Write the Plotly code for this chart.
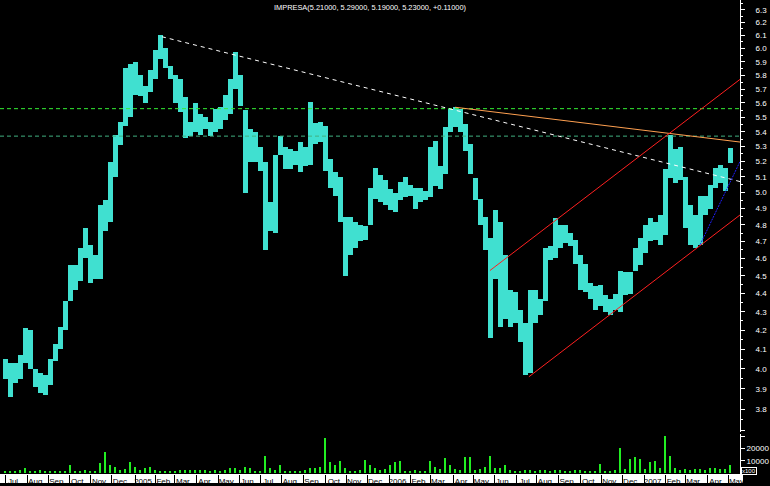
import pandas as pd
import plotly.graph_objects as go

TITLE = "IMPRESA(5.21000, 5.29000, 5.19000, 5.23000, +0.11000)"

# ~weekly samples (first sample 2004-07-01, last early May 2007)
bar_dates = pd.date_range("2004-07-01", "2007-05-04 05:00", periods=146)

lows = [3.95, 3.86, 3.93, 3.95, 4.03, 4.00, 3.91, 3.88, 3.87, 3.92,
        4.04, 4.10, 4.20, 4.36, 4.42, 4.47, 4.60, 4.46, 4.48, 4.48,
        4.76, 4.82, 5.10, 5.31, 5.44, 5.50, 5.66, 5.65, 5.60, 5.68,
        5.77, 5.92, 5.85, 5.77, 5.60, 5.54, 5.36, 5.37, 5.40, 5.38,
        5.42, 5.37, 5.40, 5.42, 5.48, 5.52, 5.70, 5.58, 5.00, 5.20,
        5.20, 5.14, 4.65, 4.76, 4.75, 5.24, 5.15, 5.15, 5.18, 5.13,
        5.17, 5.18, 5.32, 5.33, 5.14, 5.03, 4.98, 4.82, 4.50, 4.62,
        4.66, 4.70, 4.71, 4.80, 4.96, 4.94, 4.92, 4.89, 4.88, 4.95,
        4.97, 4.98, 4.90, 4.94, 4.95, 4.97, 5.04, 5.02, 5.12, 5.40,
        5.43, 5.40, 5.27, 5.12, 4.95, 4.80, 4.65, 4.16, 4.48, 4.22,
        4.26, 4.22, 4.24, 4.14, 3.97, 3.98, 4.24, 4.28, 4.36, 4.59,
        4.60, 4.66, 4.69, 4.67, 4.57, 4.42, 4.41, 4.37, 4.31, 4.33,
        4.30, 4.28, 4.31, 4.30, 4.39, 4.40, 4.53, 4.56, 4.63, 4.70,
        4.71, 4.68, 4.74, 5.09, 5.06, 5.08, 4.78, 4.68, 4.66, 4.68,
        4.86, 4.90, 5.03, 5.06, 5.01, 5.19]

highs = [4.05, 4.03, 4.03, 4.07, 4.21, 4.20, 4.00, 3.98, 3.97, 4.05,
         4.13, 4.22, 4.36, 4.56, 4.56, 4.66, 4.78, 4.68, 4.62, 4.92,
         4.95, 5.20, 5.38, 5.47, 5.85, 5.88, 5.90, 5.80, 5.72, 5.84,
         5.99, 6.10, 6.00, 5.87, 5.80, 5.77, 5.64, 5.47, 5.60, 5.52,
         5.50, 5.47, 5.56, 5.57, 5.66, 5.77, 5.97, 5.80, 5.55, 5.42,
         5.40, 5.30, 5.20, 4.94, 5.24, 5.37, 5.30, 5.28, 5.27, 5.33,
         5.30, 5.61, 5.46, 5.47, 5.44, 5.22, 5.13, 5.10, 4.85, 4.85,
         4.82, 4.80, 4.79, 5.03, 5.16, 5.11, 5.08, 5.02, 5.00, 5.07,
         5.10, 5.05, 5.03, 5.03, 5.01, 5.30, 5.34, 5.17, 5.43, 5.56,
         5.57, 5.56, 5.45, 5.32, 5.09, 4.96, 4.85, 4.72, 4.89, 4.82,
         4.62, 4.42, 4.41, 4.31, 4.24, 4.42, 4.42, 4.37, 4.66, 4.67,
         4.84, 4.80, 4.80, 4.75, 4.71, 4.62, 4.57, 4.46, 4.44, 4.45,
         4.39, 4.37, 4.40, 4.53, 4.52, 4.52, 4.66, 4.72, 4.80, 4.84,
         4.82, 4.86, 5.15, 5.38, 5.28, 5.30, 5.10, 4.92, 4.86, 4.98,
         4.98, 5.05, 5.16, 5.18, 5.16, 5.29]

# volume (x100)
volume = [1000, 1200, 1000, 2000, 4000, 1200, 800, 2000, 1800, 1500,
          1500, 1600, 1500, 6000, 1500, 1200, 2000, 1500, 1800, 8000,
          17000, 6000, 5000, 2500, 3000, 8500, 5000, 2500, 4000, 5000,
          2000, 1500, 1200, 1500, 1500, 2000, 2500, 2500, 2500, 2000,
          2500, 1500, 2000, 1200, 2500, 4000, 4000, 2000, 5000, 4000,
          1500, 1200, 14000, 4000, 2000, 6000, 1500, 1000, 1200, 1200,
          2500, 4000, 3500, 4500, 28000, 8800, 6000, 10000, 4000, 1500,
          1200, 2000, 10500, 6500, 4000, 2500, 3000, 6000, 9000, 9300,
          1500, 1200, 2000, 1200, 1500, 10000, 5000, 3000, 12000, 6000,
          3000, 2500, 12500, 12500, 2000, 3000, 5000, 13500, 4000, 4000,
          6000, 2000, 1500, 1500, 2500, 2500, 1500, 2000, 2500, 1500,
          2000, 2000, 1200, 1500, 2000, 2000, 1200, 1200, 1000, 7000,
          1500, 1200, 2500, 20500, 3000, 11000, 12500, 11000, 3000, 9000,
          9500, 4000, 30000, 13500, 4000, 2500, 3000, 2500, 3000, 3000,
          2000, 4000, 3500, 3000, 3000, 6000]

# x axis month labels (first trading day of each month)
month_dates = ["2004-07-01", "2004-08-02", "2004-09-01", "2004-10-01", "2004-11-01",
               "2004-12-01", "2005-01-03", "2005-02-01", "2005-03-01", "2005-04-01",
               "2005-05-02", "2005-06-01", "2005-07-01", "2005-08-01", "2005-09-01",
               "2005-10-03", "2005-11-01", "2005-12-01", "2006-01-02", "2006-02-01",
               "2006-03-01", "2006-04-03", "2006-05-02", "2006-06-01", "2006-07-03",
               "2006-08-01", "2006-09-01", "2006-10-02", "2006-11-01", "2006-12-01",
               "2007-01-02", "2007-02-01", "2007-03-01", "2007-04-02", "2007-05-02"]
month_labels = ["Jul", "Aug", "Sep", "Oct", "Nov", "Dec", "2005", "Feb", "Mar", "Apr",
                "May", "Jun", "Jul", "Aug", "Sep", "Oct", "Nov", "Dec", "2006", "Feb",
                "Mar", "Apr", "May", "Jun", "Jul", "Aug", "Sep", "Oct", "Nov", "Dec",
                "2007", "Feb", "Mar", "Apr", "May"]

price_ticks = [3.7, 3.8, 3.9, 4.0, 4.1, 4.2, 4.3, 4.4, 4.5, 4.6, 4.7, 4.8, 4.9,
               5.0, 5.1, 5.2, 5.3, 5.4, 5.5, 5.6, 5.7, 5.8, 5.9, 6.0, 6.1, 6.2, 6.3]
price_labels = ["", "3.8", "3.9", "4.0", "4.1", "4.2", "4.3", "4.4", "4.5", "4.6", "4.7",
                "4.8", "4.9", "5.0", "5.1", "5.2", "5.3", "5.4", "5.5", "5.6", "5.7",
                "5.8", "5.9", "6.0", "6.1", "6.2", "6.3"]
price_minor = [3.75, 3.85, 3.95, 4.05, 4.15, 4.25, 4.35, 4.45, 4.55, 4.65, 4.75, 4.85,
               4.95, 5.05, 5.15, 5.25, 5.35, 5.45, 5.55, 5.65, 5.75, 5.85, 5.95, 6.05,
               6.15, 6.25, 6.35]
vol_ticks = [10000, 20000, 30000]
vol_labels = ["10000", "20000", ""]

x_start, x_end = "2004-06-23 20:00", "2007-05-18 12:00"

# drawn trend lines (start/end points)
white_x, white_y = ["2005-02-10 12:00", x_end], [6.09, 5.07]
orange_x, orange_y = ["2006-04-06", x_end], [5.57, 5.33]
red_up_x, red_up_y = ["2006-05-25 18:00", x_end], [4.53, 5.77]
red_lo_x, red_lo_y = ["2006-07-20 12:00", x_end], [3.96, 4.86]
blue_x, blue_y = ["2007-03-22 08:00", x_end], [4.68, 5.20]
level_hi, level_lo = 5.56, 5.37

CYAN = "#40E0D0"
GREEN = "#22EE22"

step_ms = (bar_dates[1] - bar_dates[0]).total_seconds() * 1000

fig = go.Figure()
fig.add_trace(go.Bar(x=bar_dates, base=lows, y=[h - l for h, l in zip(highs, lows)],
                     width=step_ms, marker=dict(color=CYAN, line=dict(width=0)),
                     yaxis="y", hoverinfo="skip"))
fig.add_trace(go.Bar(x=bar_dates, y=volume, width=step_ms * 0.32,
                     marker=dict(color=GREEN, line=dict(width=0)),
                     yaxis="y2", hoverinfo="skip"))

def line(xs, ys, color, dash="solid"):
    fig.add_trace(go.Scatter(x=xs, y=ys, mode="lines", yaxis="y",
                             line=dict(color=color, width=1, dash=dash),
                             hoverinfo="skip"))

line([x_start, x_end], [level_hi, level_hi], "#33EE33", "4px,3px")
line([x_start, x_end], [level_lo, level_lo], "#40B080", "4px,3px")
line(white_x, white_y, "#FFFFFF", "4px,4px")
line(orange_x, orange_y, "#FFA050")
line(red_up_x, red_up_y, "#FF2020")
line(red_lo_x, red_lo_y, "#FF2020")
line(blue_x, blue_y, "#2020FF", "2px,1px")

PH = 477.0
fig.update_layout(
    width=770, height=486,
    margin=dict(l=0, r=30, t=0, b=9),
    paper_bgcolor="black", plot_bgcolor="black",
    showlegend=False, hovermode=False, bargap=0,
    font=dict(family="Liberation Sans", color="white", size=8),
    title=dict(text=TITLE, x=0.5, xref="paper", xanchor="center",
               y=1 - 7 / 486, yref="container", yanchor="middle",
               font=dict(size=7.4, color="white", family="Liberation Sans")),
    xaxis=dict(type="date", range=[x_start, x_end], anchor="y2",
               tickmode="array", tickvals=month_dates, ticktext=month_labels,
               ticks="outside", ticklen=9, tickcolor="black", tickwidth=1,
               tickfont=dict(color="black", size=8, family="Liberation Sans"),
               ticklabelshift=8, ticklabelstandoff=-10,
               showgrid=False, zeroline=False, showline=False),
    yaxis=dict(type="log", domain=[(PH - 435) / PH, 1], range=[0.5672, 0.8048],
               side="right", anchor="x", showline=True, linecolor="white", linewidth=1,
               tickmode="array", tickvals=price_ticks, ticktext=price_labels,
               ticks="outside", ticklen=4, tickcolor="white",
               minor=dict(tickvals=price_minor, ticks="outside", ticklen=2, tickcolor="white"),
               tickfont=dict(color="white", size=8), ticklabelstandoff=9,
               showgrid=False, zeroline=False),
    yaxis2=dict(domain=[0, (PH - 437) / PH], range=[-800, 31600],
                side="right", anchor="x", showline=True, linecolor="white", linewidth=1,
                tickmode="array", tickvals=vol_ticks, ticktext=vol_labels,
                ticks="outside", ticklen=4, tickcolor="white",
                tickfont=dict(color="white", size=8), ticklabelstandoff=0,
                showgrid=False, zeroline=False),
    shapes=[dict(type="rect", xref="paper", yref="paper", x0=0, x1=743 / 740,
                 y0=-9 / PH, y1=0, fillcolor="white", line=dict(width=0), layer="below")],
    annotations=[dict(text="x100", xref="paper", yref="paper", x=741 / 740, y=3.5 / PH,
                      xanchor="left", yanchor="middle", showarrow=False,
                      font=dict(size=6, color="white"), bordercolor="white",
                      borderwidth=1, borderpad=0, bgcolor="black")],
)

fig.write_html("out.html", config={"displayModeBar": False},
               post_script="document.body.style.margin='0';document.body.style.background='black';")
